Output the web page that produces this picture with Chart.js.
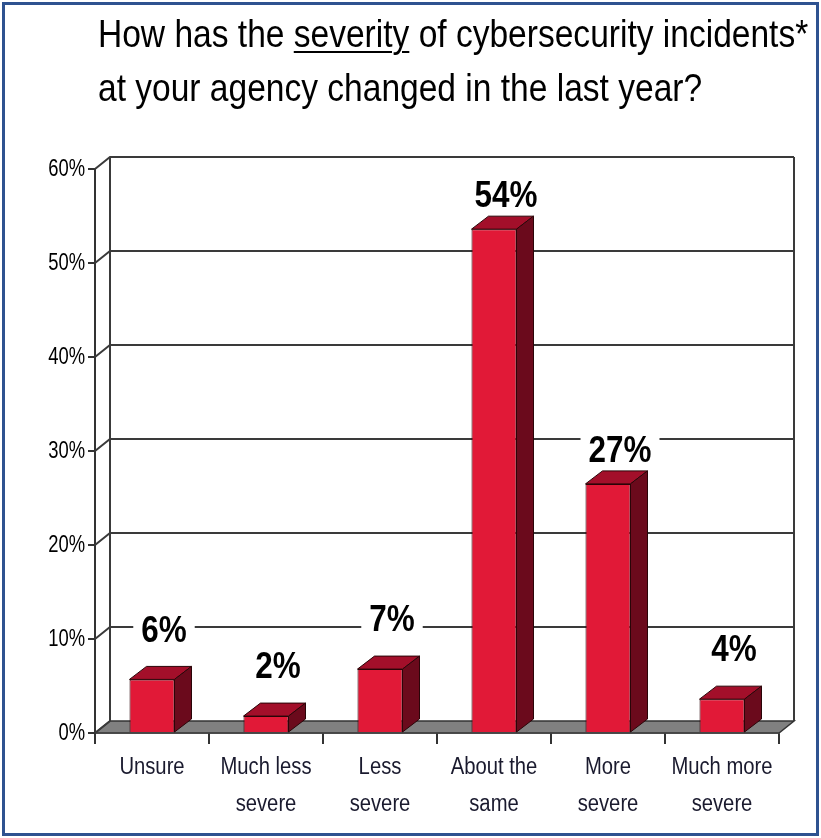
<!DOCTYPE html>
<html>
<head>
<meta charset="utf-8">
<script src="https://cdn.jsdelivr.net/npm/chart.js@4.4.0/dist/chart.umd.min.js"></script>
<style>
html, body { margin: 0; padding: 0; background: #fff; }
#wrap { position: relative; width: 821px; height: 838px; overflow: hidden; }
#chart { position: absolute; left: 0; top: 0; }
#title { position: absolute; left: 98px; top: 7px; font-size: 39px; line-height: 54px; color: #000; white-space: nowrap;
  font-family: 'Liberation Sans', Arial, sans-serif; transform: scaleX(0.86); transform-origin: 0 0; }
#title u { text-decoration-thickness: 2px; text-underline-offset: 4px; }
#frame { position: absolute; left: 2px; top: 2px; width: 811px; height: 828px; border: 3px solid #2e5290; pointer-events: none; }
</style>
</head>
<body>
<div id="wrap">
  <canvas id="chart" width="821" height="838"></canvas>
  <div id="title">How has the <u>severity</u> of cybersecurity incidents*<br>at your agency changed in the last year?</div>
  <div id="frame"></div>
</div>
<script>
var categories = ["Unsure", ["Much less", "severe"], ["Less", "severe"], ["About the", "same"], ["More", "severe"], ["Much more", "severe"]];
var shares = [5.7, 1.8, 6.8, 53.6, 26.5, 3.6];
var shareLabels = ["6%", "2%", "7%", "54%", "27%", "4%"];
var yTicks = [0, 10, 20, 30, 40, 50, 60];

var FONT = "'Liberation Sans', Arial, sans-serif";
var WALL_DX = 15, WALL_DY = -12;
var BAR_DX = 17, BAR_DY = -13;

// Arial squeezed sideways, stands in for Arial Narrow
function narrowText(c, text, x, y, sx, align) {
    c.save();
    c.translate(x, y);
    c.scale(sx, 1);
    c.textAlign = align;
    c.textBaseline = 'middle';
    c.fillText(text, 0, 0);
    c.restore();
}

const box3d = {
    id: 'box3d',
    beforeDatasetsDraw(chart) {
        const c = chart.ctx, a = chart.chartArea, y = chart.scales.y;
        const yb = y.getPixelForValue(0);
        const yt = y.getPixelForValue(yTicks[yTicks.length - 1]);
        c.save();
        // floor
        c.fillStyle = '#808080';
        c.strokeStyle = '#333';
        c.lineWidth = 1.5;
        c.beginPath();
        c.moveTo(a.left, yb);
        c.lineTo(a.right, yb);
        c.lineTo(a.right + WALL_DX, yb + WALL_DY);
        c.lineTo(a.left + WALL_DX, yb + WALL_DY);
        c.closePath();
        c.fill();
        c.stroke();

        // back wall grid + depth connectors
        c.strokeStyle = '#3a3a3a';
        c.lineWidth = 2;
        yTicks.forEach(function (v) {
            const py = y.getPixelForValue(v);
            c.beginPath();
            c.moveTo(a.left, py);
            c.lineTo(a.left + WALL_DX, py + WALL_DY);
            if (v > 0) c.lineTo(a.right + WALL_DX, py + WALL_DY);
            c.stroke();
        });
        c.beginPath();
        c.moveTo(a.left + WALL_DX, yt + WALL_DY);
        c.lineTo(a.left + WALL_DX, yb + WALL_DY);
        c.moveTo(a.right + WALL_DX, yt + WALL_DY);
        c.lineTo(a.right + WALL_DX, yb + WALL_DY);
        c.stroke();
        c.restore();
    },
    afterDatasetsDraw(chart) {
        const c = chart.ctx;
        const meta = chart.getDatasetMeta(0);
        c.save();
        meta.data.forEach(function (bar, i) {
            const p = bar.getProps(['x', 'y', 'base', 'width'], true);
            const l = p.x - p.width / 2, r = p.x + p.width / 2, t = p.y, b = p.base;
            c.strokeStyle = '#2a0508';
            c.lineWidth = 1;
            c.fillStyle = '#a30f2a';
            c.beginPath();
            c.moveTo(l, t);
            c.lineTo(l + BAR_DX, t + BAR_DY);
            c.lineTo(r + BAR_DX, t + BAR_DY);
            c.lineTo(r, t);
            c.closePath();
            c.fill();
            c.stroke();
            c.fillStyle = '#6b0a1c';
            c.beginPath();
            c.moveTo(r, t);
            c.lineTo(r + BAR_DX, t + BAR_DY);
            c.lineTo(r + BAR_DX, b + BAR_DY);
            c.lineTo(r, b);
            c.closePath();
            c.fill();
            c.stroke();

            // value label on a white patch
            const lift = shares[i] < 10 ? 36 : 20;
            const ly = t + BAR_DY - lift;
            const lx = p.x + 12;
            c.font = 'bold 37px ' + FONT;
            const w = c.measureText(shareLabels[i]).width * 0.85 + 16;
            c.fillStyle = '#fff';
            c.fillRect(lx - w / 2, ly - 17, w, 34);
            c.fillStyle = '#000';
            narrowText(c, shareLabels[i], lx, ly + 1, 0.85, 'center');
        });
        c.restore();
    },
    afterDraw(chart) {
        const c = chart.ctx, a = chart.chartArea;
        const xs = chart.scales.x, ys = chart.scales.y;
        c.save();
        c.font = '23px ' + FONT;
        c.fillStyle = '#000';
        yTicks.forEach(function (v) {
            narrowText(c, v + '%', a.left - 10, ys.getPixelForValue(v) + 1, 0.8, 'right');
        });
        c.font = '23px ' + FONT;
        c.fillStyle = '#1a1a2e';
        categories.forEach(function (lab, i) {
            const px = xs.getPixelForTick(i);
            const lines = Array.isArray(lab) ? lab : [lab];
            lines.forEach(function (s, k) {
                narrowText(c, s, px, a.bottom + 35 + k * 37, 0.88, 'center');
            });
        });
        c.restore();
    }
};

const ctx = document.getElementById('chart');
const severityChart = new Chart(ctx, {
    type: 'bar',
    data: {
        labels: categories,
        datasets: [{
            data: shares,
            backgroundColor: '#e11937',
            borderColor: '#2a0508',
            borderWidth: 1,
            barPercentage: 0.395,
            categoryPercentage: 1
        }]
    },
    options: {
        responsive: false,
        animation: false,
        layout: { padding: { left: 0, top: 169, right: 42, bottom: 0 } },
        plugins: {
            legend: { display: false },
            tooltip: { enabled: false }
        },
        scales: {
            x: {
                offset: true,
                afterFit: function (s) { s.height = 105; },
                grid: { offset: true, drawOnChartArea: false, drawTicks: true, tickLength: 11, color: '#333', lineWidth: 2 },
                border: { display: true, color: '#333', width: 1.5 },
                ticks: { display: false, autoSkip: false, maxRotation: 0 }
            },
            y: {
                min: 0,
                max: yTicks[yTicks.length - 1],
                afterFit: function (s) { s.width = 95; },
                afterBuildTicks: function (s) { s.ticks = yTicks.map(function (v) { return { value: v }; }); },
                grid: { drawOnChartArea: false, drawTicks: true, tickLength: 7, color: '#333', lineWidth: 2 },
                border: { display: true, color: '#333', width: 2 },
                ticks: { display: false }
            }
        }
    },
    plugins: [box3d]
});
</script>
</body>
</html>
